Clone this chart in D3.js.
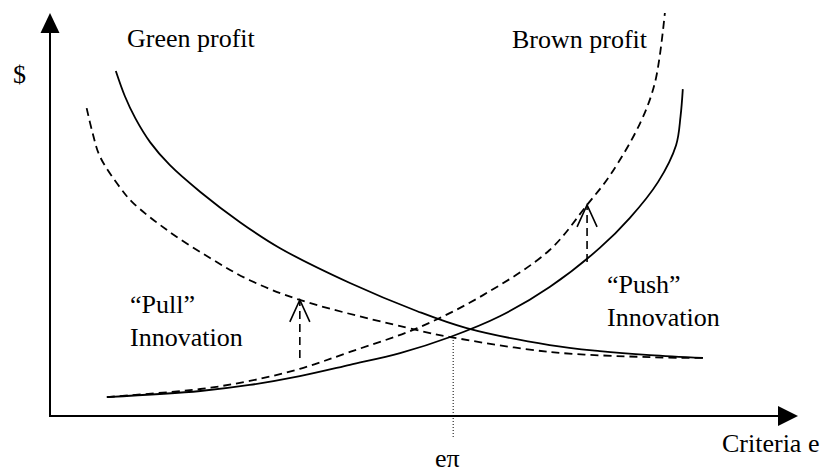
<!DOCTYPE html>
<html>
<head>
<meta charset="utf-8">
<script src="https://cdn.jsdelivr.net/npm/d3@7"></script>
<style>
  body { margin: 0; background: #fff; }
  svg { display: block; }
  text { font-family: "Liberation Serif", "Times New Roman", serif; font-size: 26px; fill: #000; }
</style>
</head>
<body>
<svg width="825" height="472"></svg>
<script>
// curves, in chart units (x: criteria e 0-100, y: $ 0-100)
const greenProfit = [[8.8, 85.6], [10.0, 79.4], [11.4, 73.9], [13.4, 67.9], [16.0, 62.3], [20.1, 55.6], [25.4, 48.1],
    [30.7, 41.7], [40.1, 33.0], [49.1, 26.0], [55.7, 21.8], [66.8, 17.6], [73.5, 16.1], [80.2, 15.1], [87.3, 14.4]]
const greenShifted = [[4.9, 76.4], [5.7, 70.2], [6.7, 64.3], [9.4, 56.6], [11.1, 52.9], [15.6, 46.2], [21.4, 39.2],
    [26.7, 33.7], [33.4, 28.8], [49.1, 21.3], [53.5, 19.6], [66.8, 15.9], [80.2, 14.6], [87.3, 14.4]]
const brownProfit = [[7.6, 4.7], [20.1, 6.2], [26.7, 7.7], [33.4, 9.9], [40.1, 12.7], [46.8, 15.6], [53.5, 19.6],
    [60.2, 24.8], [66.8, 32.0], [73.5, 41.7], [77.5, 49.1], [81.3, 58.1], [83.7, 67.2], [84.3, 74.4], [84.6, 81.1]]
const brownShifted = [[7.6, 4.7], [20.1, 6.7], [26.7, 8.7], [33.4, 11.7], [40.1, 15.9], [49.1, 21.8], [57.9, 30.0],
    [66.8, 41.2], [71.8, 52.4], [74.9, 59.8], [78.9, 72.7], [80.9, 82.9], [82.2, 100]]

// innovation arrows: [x, from y, to y]
const pullArrow = [33.4, 14.4, 28.8]
const pushArrow = [71.8, 38.2, 52.4]
const ePi = [53.9, 19.6, -5.2]

const curveLabels = ["Green profit", "Brown profit"]
const pullLabel = ["\u201cPull\u201d", "Innovation"]
const pushLabel = ["\u201cPush\u201d", "Innovation"]
const axisLabels = ["$", "Criteria e", "e\u03c0"]

const svg = d3.select("svg")
const xScale = d3.scaleLinear().domain([0, 100]).range([50, 798])
const yScale = d3.scaleLinear().domain([0, 100]).range([416, 13])

// axes with arrow heads
const x0 = xScale(0), y0 = yScale(0)
svg.append("line").attr("x1", x0).attr("y1", y0).attr("x2", x0).attr("y2", yScale(100) + 18)
    .attr("stroke", "#000").attr("stroke-width", 2)
svg.append("line").attr("x1", x0 - 1).attr("y1", y0).attr("x2", xScale(100) - 18).attr("y2", y0)
    .attr("stroke", "#000").attr("stroke-width", 2)
svg.append("path")
    .attr("d", `M${x0},${yScale(100)} L${x0 - 9.5},${yScale(100) + 20} L${x0 + 9.5},${yScale(100) + 20} Z`)
    .attr("fill", "#000")
svg.append("path")
    .attr("d", `M${xScale(100)},${y0} L${xScale(100) - 20},${y0 - 10} L${xScale(100) - 20},${y0 + 10} Z`)
    .attr("fill", "#000")

const line = d3.line()
    .x(d => xScale(d[0]))
    .y(d => yScale(d[1]))
    .curve(d3.curveCatmullRom.alpha(0.5))

const curves = [
    { data: greenProfit, dash: null },
    { data: greenShifted, dash: "8,5" },
    { data: brownProfit, dash: null },
    { data: brownShifted, dash: "8,5" }
]

svg.append("g")
    .selectAll("path")
    .data(curves)
    .enter()
    .append("path")
    .attr("d", d => line(d.data))
    .attr("fill", "none")
    .attr("stroke", "#000")
    .attr("stroke-width", 1.8)
    .attr("stroke-dasharray", d => d.dash)

// dashed arrows
svg.append("g")
    .selectAll("g")
    .data([pullArrow, pushArrow])
    .enter()
    .append("g")
    .each(function(d) {
        const g = d3.select(this)
        const x = xScale(d[0]), yTip = yScale(d[2])
        g.append("line")
            .attr("x1", x).attr("x2", x)
            .attr("y1", yScale(d[1])).attr("y2", yTip)
            .attr("stroke", "#000").attr("stroke-width", 1.6)
            .attr("stroke-dasharray", "8,5")
        g.append("path")
            .attr("d", `M${x - 10},${yTip + 22} L${x},${yTip} L${x + 10},${yTip + 22}`)
            .attr("fill", "none").attr("stroke", "#000").attr("stroke-width", 1.6)
    })

// dotted drop line at e pi
svg.append("line")
    .attr("x1", xScale(ePi[0])).attr("x2", xScale(ePi[0]))
    .attr("y1", yScale(ePi[1])).attr("y2", yScale(ePi[2]))
    .attr("stroke", "#000").attr("stroke-width", 1)
    .attr("stroke-dasharray", "1,2")

// labels
svg.append("text").attr("x", 13).attr("y", 83).text(axisLabels[0])
svg.append("text").attr("x", 722).attr("y", 452).text(axisLabels[1])
svg.append("text").attr("x", 435).attr("y", 467).text(axisLabels[2])
svg.append("text").attr("x", 127).attr("y", 47).text(curveLabels[0])
svg.append("text").attr("x", 512).attr("y", 48).text(curveLabels[1])

svg.append("text").selectAll("tspan")
    .data(pullLabel).enter().append("tspan")
    .attr("x", 130).attr("y", (d, i) => 313 + i * 33).text(d => d)
svg.append("text").selectAll("tspan")
    .data(pushLabel).enter().append("tspan")
    .attr("x", 607).attr("y", (d, i) => 293 + i * 33).text(d => d)
</script>
</body>
</html>
